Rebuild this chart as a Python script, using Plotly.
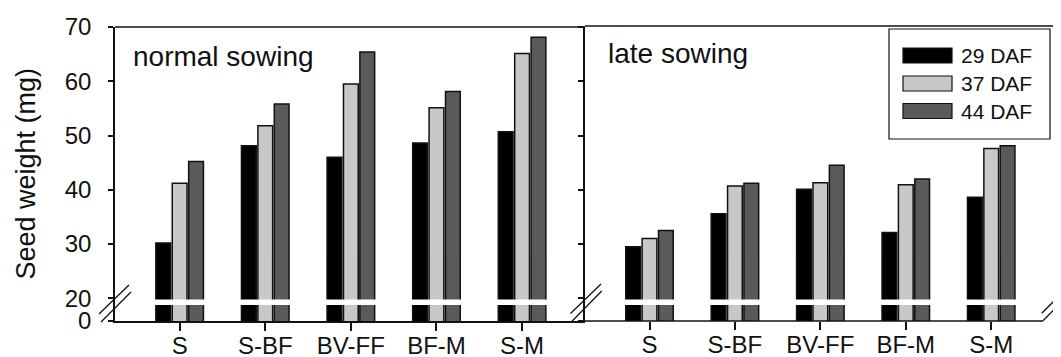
import plotly.graph_objects as go

# ---------------- data ----------------
categories = ["S", "S-BF", "BV-FF", "BF-M", "S-M"]
series_names = ["29 DAF", "37 DAF", "44 DAF"]
panel_titles = ["normal sowing", "late sowing"]

normal_29 = [30.2, 48.1, 46.0, 48.6, 50.7]
normal_37 = [41.2, 51.8, 59.5, 55.1, 65.1]
normal_44 = [45.2, 55.8, 65.4, 58.1, 68.1]

late_29 = [29.5, 35.6, 40.1, 32.1, 38.6]
late_37 = [31.0, 40.7, 41.3, 40.9, 47.6]
late_44 = [32.5, 41.2, 44.5, 42.0, 48.1]

y_tick_values = [20, 30, 40, 50, 60, 70]
y_tick_labels = ["20", "30", "40", "50", "60", "70"]

# ---------------- styling / layout constants ----------------
PAGE_PAD = 8                 # default body margin of the html page
W, H = 1061 - PAGE_PAD, 357 - PAGE_PAD
FONT = "Liberation Sans, Arial, Helvetica, sans-serif"
fills = ["#000000", "#c8c8c8", "#5a5a5a"]
AXIS_ZERO = 15.81          # where the broken axis shows "0"
Y_RANGE = [AXIS_ZERO, 70.09]
X_RANGE = [-0.755, 4.735]
BREAK_LO, BREAK_HI = 18.76, 19.77


def px(x):
    return (x - PAGE_PAD) / W


def py(y):
    return 1 - (y - PAGE_PAD) / H


fig = go.Figure()

panels = [
    ("x", "y", [normal_29, normal_37, normal_44]),
    ("x2", "y2", [late_29, late_37, late_44]),
]
for xa, ya, series in panels:
    for name, vals, col in zip(series_names, series, fills):
        fig.add_trace(go.Bar(
            x=categories, y=vals, name=name, xaxis=xa, yaxis=ya,
            marker=dict(color=col, line=dict(color="#111111", width=1.5)),
            showlegend=False, hoverinfo="x+y+name",
        ))

axis_common = dict(showgrid=False, zeroline=False, ticks="outside",
                   tickcolor="#111111", tickwidth=1.5, linecolor="#111111",
                   linewidth=1.5, automargin=False,
                   tickfont=dict(family=FONT, size=24, color="#111111"))

fig.update_layout(
    width=W, height=H,
    margin=dict(l=0, r=0, t=0, b=0),
    paper_bgcolor="white", plot_bgcolor="white",
    barmode="group", bargap=0.425, bargroupgap=0.1,
    font=dict(family=FONT, color="#111111"),
    xaxis=dict(domain=[px(115), px(585)], range=X_RANGE, showline=True,
               ticklen=8, anchor="y", **axis_common),
    xaxis2=dict(domain=[px(585), px(1054)], range=X_RANGE, showline=False,
                ticklen=8, anchor="y2", **axis_common),
    yaxis=dict(domain=[py(321), py(26.5)], range=Y_RANGE, showline=True,
               tickvals=[AXIS_ZERO] + y_tick_values,
               ticktext=["0"] + y_tick_labels, ticklen=5,
               ticklabelstandoff=12, anchor="x",
               title=dict(text="Seed weight (mg)", standoff=21,
                          font=dict(family=FONT, size=27, color="#111111")),
               **axis_common),
    yaxis2=dict(domain=[py(321), py(26.5)], range=Y_RANGE, showline=True,
                tickvals=[AXIS_ZERO] + y_tick_values, showticklabels=False,
                ticklen=5, anchor="x2", **axis_common),
)
for ax in ("xaxis", "xaxis2"):
    fig.layout[ax].ticklabelstandoff = -6

shapes = []
# white break bands across each bar group
for xr, yr in (("x", "y"), ("x2", "y2")):
    for i in range(len(categories)):
        shapes.append(dict(type="rect", xref=xr, yref=yr,
                           x0=i - 0.295, x1=i + 0.295, y0=BREAK_LO, y1=BREAK_HI,
                           fillcolor="white", line=dict(width=0), layer="above"))


def seg(x0, y0, x1, y1, width=1.5):
    return dict(type="line", xref="paper", yref="paper",
                x0=px(x0), y0=py(y0), x1=px(x1), y1=py(y1),
                line=dict(color="#111111", width=width), layer="above")


# frame pieces
shapes.append(seg(115, 27, 585, 27))          # left panel top
shapes.append(seg(585, 26, 1054, 26))         # right panel top
shapes.append(seg(1054, 26, 1054, 290))       # right panel right side
shapes.append(seg(585, 321, 1043, 321))       # right panel bottom
# axis break marks "//"
for (ax0, ay0, ax1, ay1) in [
    (99, 314, 129, 285), (101, 322, 131, 292),
    (570.5, 313.5, 601, 284), (571.5, 321.7, 601.7, 291),
    (1041.7, 313.3, 1061, 294), (1043, 320.7, 1061, 302.7),
]:
    shapes.append(seg(ax0, ay0, ax1, ay1, width=1.3))

# legend box and swatches
shapes.append(dict(type="rect", xref="paper", yref="paper",
                   x0=px(889), x1=px(1050), y0=py(139), y1=py(29),
                   fillcolor="white", line=dict(color="#111111", width=1.2),
                   layer="above"))
legend_centers = [55.5, 83.5, 111]
annotations = []
for name, col, cy in zip(series_names, fills, legend_centers):
    shapes.append(dict(type="rect", xref="paper", yref="paper",
                       x0=px(903), x1=px(952), y0=py(cy + 7.5), y1=py(cy - 7.5),
                       fillcolor=col, line=dict(color="#111111", width=1.2),
                       layer="above"))
    annotations.append(dict(text=name, xref="paper", yref="paper",
                            x=px(959), y=py(cy), xanchor="left", yanchor="middle",
                            showarrow=False,
                            font=dict(family=FONT, size=21, color="#111111")))

annotations.append(dict(text=panel_titles[0], xref="paper", yref="paper",
                        x=px(131), y=py(57), xanchor="left", yanchor="middle",
                        showarrow=False,
                        font=dict(family=FONT, size=28, color="#111111")))
annotations.append(dict(text=panel_titles[1], xref="paper", yref="paper",
                        x=px(606), y=py(54), xanchor="left", yanchor="middle",
                        showarrow=False,
                        font=dict(family=FONT, size=28, color="#111111")))

fig.update_layout(shapes=shapes, annotations=annotations)

fig.write_html("out.html")
